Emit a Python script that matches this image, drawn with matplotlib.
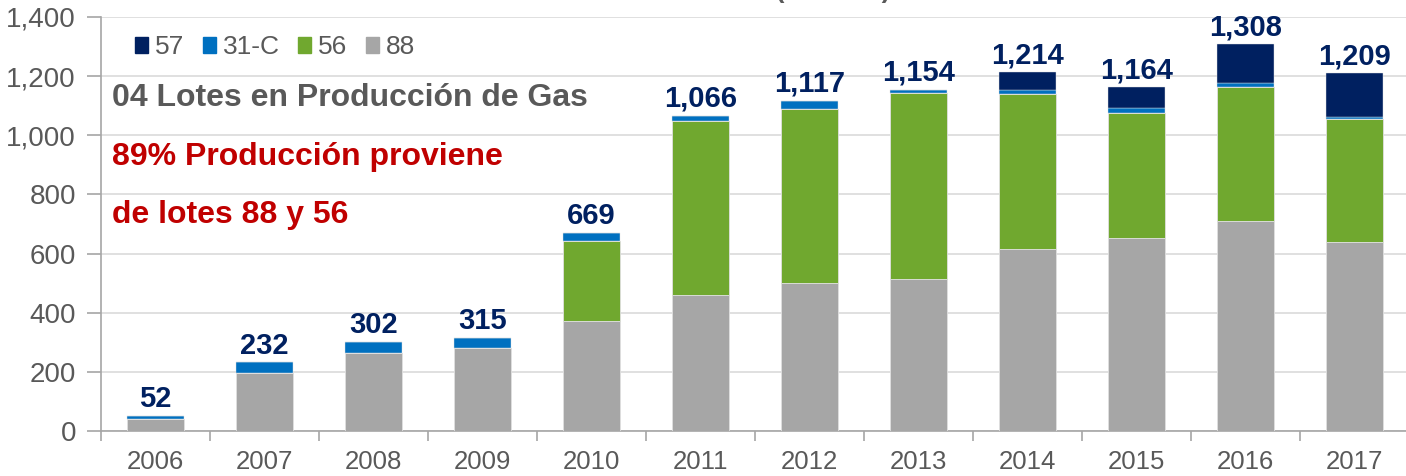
import matplotlib
matplotlib.use("Agg")
import matplotlib.pyplot as plt
from matplotlib.patches import Patch
import numpy as np

plt.rcParams['font.family'] = ['Liberation Sans', 'DejaVu Sans']

years = ["2006", "2007", "2008", "2009", "2010", "2011", "2012", "2013", "2014", "2015", "2016", "2017"]
lote_88 = [40, 196, 264, 281, 372, 460, 502, 513, 615, 653, 710, 639]
lote_56 = [0, 0, 0, 0, 271, 589, 586, 629, 524, 423, 452, 417]
lote_31c = [12, 36, 38, 34, 26, 17, 29, 12, 15, 16, 15, 6]
lote_57 = [0, 0, 0, 0, 0, 0, 0, 0, 60, 72, 131, 147]
totals = [52, 232, 302, 315, 669, 1066, 1117, 1154, 1214, 1164, 1308, 1209]

c57 = "#002060"
c31 = "#0070C0"
c56 = "#70A82F"
c88 = "#A6A6A6"
gray_txt = "#595959"

W, H = 1406, 476
fig = plt.figure(figsize=(W / 100, H / 100), dpi=100)
ax = fig.add_axes([101 / W, 45 / H, 1308 / W, 414 / H])

x = np.arange(len(years))
bw = 0.53
b1 = np.array(lote_88)
b2 = b1 + np.array(lote_56)
b3 = b2 + np.array(lote_31c)
ax.bar(x, lote_88, bw, color=c88, edgecolor="#E0E0E0", linewidth=0.6, zorder=3)
ax.bar(x, lote_56, bw, bottom=b1, color=c56, edgecolor="#E0E0E0", linewidth=0.6, zorder=3)
ax.bar(x, lote_31c, bw, bottom=b2, color=c31, edgecolor="#E0E0E0", linewidth=0.3, zorder=3)
ax.bar(x, lote_57, bw, bottom=b3, color=c57, edgecolor="#E0E0E0", linewidth=0.3, zorder=3)

for xi, t in zip(x, totals):
    ax.annotate(f"{t:,}", (xi, t), xytext=(0, 2), textcoords="offset points",
                ha="center", va="bottom", fontsize=21, fontweight="bold", color=c57, zorder=4)

ax.set_xlim(-0.5, len(years) - 0.5)
ax.set_ylim(0, 1400)
ax.set_yticks(range(0, 1401, 200))
ax.set_yticklabels([f"{v:,}" for v in range(0, 1401, 200)])
ax.yaxis.grid(True, color="#DADADA", linewidth=1.2, zorder=0)
ax.set_axisbelow(True)

ax.set_xticks(x)
ax.set_xticklabels(years)
ax.set_xticks(np.arange(-0.5, len(years), 1), minor=True)
ax.tick_params(axis="x", which="major", length=0, pad=14, labelsize=18.5, labelcolor=gray_txt)
ax.tick_params(axis="x", which="minor", length=7, width=1.2, color="#A6A6A6")
ax.tick_params(axis="y", length=10, width=1.2, color="#A6A6A6", labelsize=20, labelcolor=gray_txt, pad=8)

for s in ["top", "right"]:
    ax.spines[s].set_visible(False)
for s in ["left", "bottom"]:
    ax.spines[s].set_color("#A6A6A6")
    ax.spines[s].set_linewidth(1.2)

handles = [Patch(color=c57, label="57"), Patch(color=c31, label="31-C"),
           Patch(color=c56, label="56"), Patch(color=c88, label="88")]
leg = ax.legend(handles=handles, ncol=4, loc="upper left", bbox_to_anchor=(0.008, 1.013),
                frameon=False, fontsize=19, handlelength=0.5, handleheight=0.5,
                handletextpad=0.25, columnspacing=0.7, labelcolor=gray_txt)

fig.text(112 / W, 1 - 98 / H, "04 Lotes en Producción de Gas", fontsize=23, fontweight="bold",
         color=gray_txt, va="center", ha="left")
fig.text(112 / W, 1 - 157 / H, "89% Producción proviene", fontsize=23, fontweight="bold",
         color="#C00000", va="center", ha="left")
fig.text(112 / W, 1 - 215 / H, "de lotes 88 y 56", fontsize=23, fontweight="bold",
         color="#C00000", va="center", ha="left")

fig.text(712 / W, 1 + 9 / H, "Producción de Gas (MMPCD)", fontsize=18.5, fontweight="bold",
         color=gray_txt, va="center", ha="center")

fig.savefig("out.png", dpi=100)
